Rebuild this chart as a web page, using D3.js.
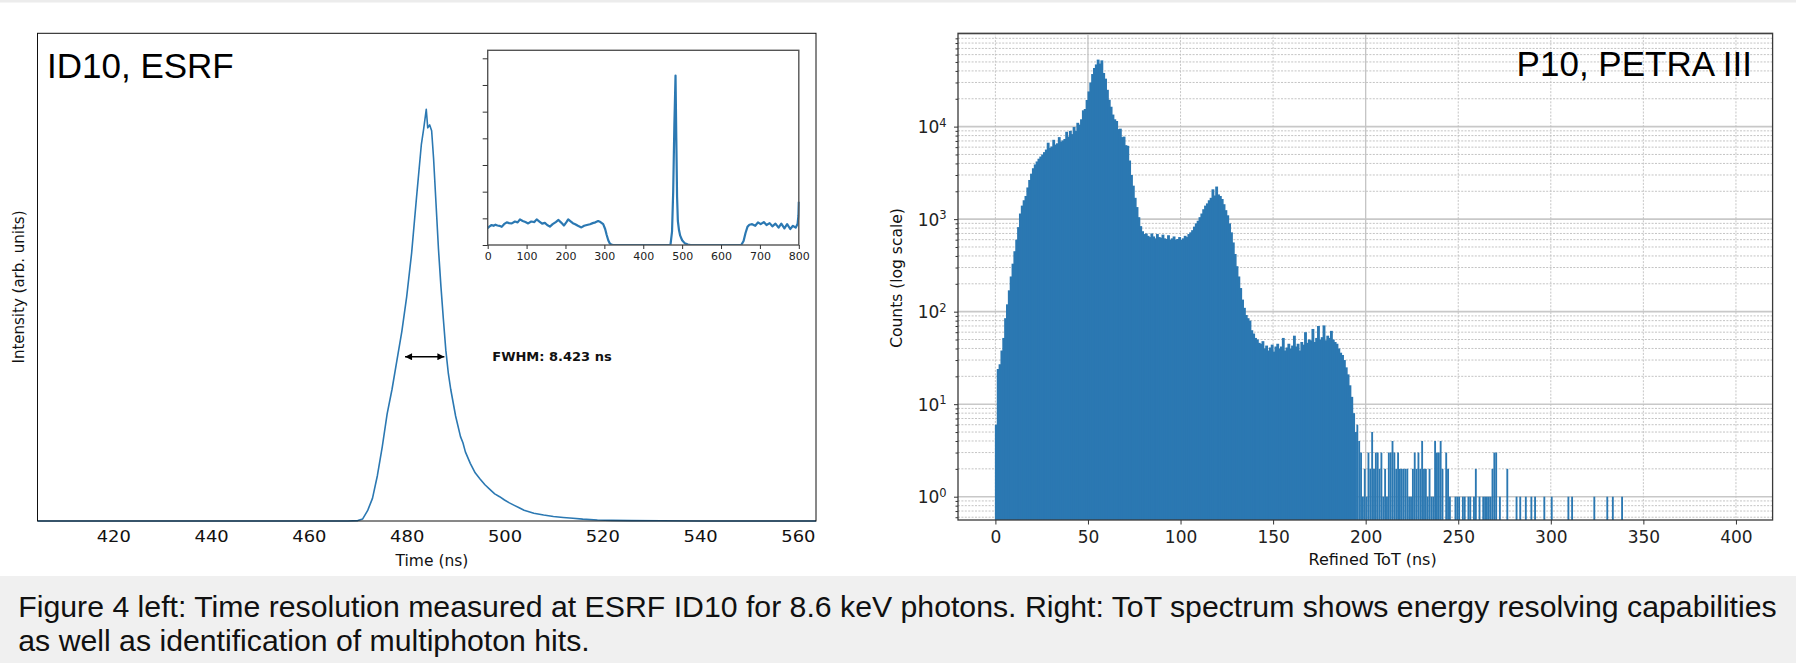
<!DOCTYPE html>
<html><head><meta charset="utf-8">
<script src="https://cdn.jsdelivr.net/npm/d3@7/dist/d3.min.js"></script>
<style>
html,body{margin:0;padding:0;background:#fff;}
svg{display:block;}
</style></head><body>
<svg id="fig" width="1796" height="663"></svg>
<script>
// ---------------- DATA ----------------
// Left panel: ID10 ESRF time profile (normalised intensity)
const timeNs = [404.5,420,440,460,468,470,471,472,473,474,475,476,477,478,479,480,481,482,483,483.5,484,484.3,484.7,485.1,485.5,486,486.5,487,487.5,488,488.5,489,490,491,491.5,492,493,494,495,496,497,498,499,500,501,502,503,504,506,508,510,512,514,516,519,522,526,532,540,563.7];
const intensity = [0,0,0,0,0,0.001,0.005,0.025,0.055,0.11,0.18,0.26,0.32,0.39,0.46,0.545,0.65,0.785,0.915,0.955,1.0,0.955,0.962,0.948,0.88,0.77,0.66,0.57,0.49,0.415,0.36,0.32,0.255,0.205,0.19,0.168,0.14,0.117,0.102,0.088,0.077,0.066,0.059,0.051,0.044,0.038,0.032,0.026,0.019,0.0145,0.011,0.0085,0.0065,0.0045,0.0025,0.0015,0.001,0.0005,0,0];
const leftTicks = [420,440,460,480,500,520,540,560];
const fwhmLabel = "FWHM: 8.423 ns";
const fwhmStart = 479.66, fwhmEnd = 487.7, fwhmLevel = 0.399;

// Inset: full 800 ns window
const insetT = [0,5,10,15,20,25,30,36,42,49,55,62,70,77,83,90,97,104,112,120,126,133,140,147,153,160,167,175,182,189,196,202,207,214,219,225,232,241,248,255,263,270,277,284,290,297,302,306,310,314,318,323,470,474,477,480,483,485,487,489,492,495,500,507,515,522,652,658,663,668,673,680,688,695,702,710,717,725,732,740,748,755,763,770,778,785,792,797,799,800];
const insetV = [0.63,0.7,0.75,0.72,0.76,0.73,0.72,0.68,0.78,0.85,0.82,0.81,0.88,0.85,0.96,0.9,0.86,0.81,0.88,0.86,0.96,0.88,0.8,0.83,0.75,0.69,0.78,0.86,0.94,0.84,0.73,0.85,0.96,0.88,0.82,0.78,0.72,0.66,0.72,0.75,0.78,0.82,0.85,0.9,0.86,0.78,0.6,0.375,0.18,0.06,0.015,0,0,0.5,2.0,4.5,6.35,4.0,1.8,0.9,0.55,0.35,0.18,0.06,0.015,0,0,0.15,0.45,0.68,0.76,0.78,0.72,0.85,0.78,0.86,0.75,0.82,0.7,0.8,0.65,0.8,0.62,0.78,0.6,0.72,0.65,0.8,1.1,1.62];
const insetXTicks = [0,100,200,300,400,500,600,700,800];
const insetYTicks = [0,1,2,3,4,5,6,7];

// Right panel: P10 PETRA III ToT histogram, 1 ns bins starting at 0 ns
const totCounts = [6,24,27,38,52,85,120,170,240,330,
 450,600,820,1150,1400,1600,1780,2200,2650,3100,
 3550,3900,4200,4500,4750,5000,5300,5650,6700,5900,
 6100,7200,6400,6600,7700,6900,7100,7350,8800,7800,
 9000,8300,9900,9000,11000,10500,12000,15000,15500,19400,
 24000,30000,37000,43000,47000,53000,48000,52000,38000,33000,
 25000,19500,16400,13500,12000,11500,9400,9500,7700,7800,
 6300,6200,4300,3000,2300,1700,1350,1050,840,740,
 690,700,660,640,700,650,620,690,640,630,
 680,620,610,670,600,620,650,600,610,640,
 600,620,660,640,690,720,760,830,900,960,
 1050,1150,1280,1400,1480,1600,1700,2100,1800,2250,
 1850,1780,1650,1450,1250,1100,900,720,560,420,
 310,240,180,135,110,92,85,80,63,58,
 52,50,46,45,48,40,43,38,41,44,
 37,42,45,40,42,52,38,41,45,40,
 43,55,42,45,38,47,44,60,46,50,
 49,65,47,52,70,50,53,71,49,55,
 52,62,50,47,45,40,36,34,30,25,
 21,16,12,8,5];
// sparse tail: [bin start (ns), counts]
const totTail = [[195,6],[196,4],[197,3],[198,1],[199,2],[200,1],[201,3],[202,2],[203,5],[204,2],[205,3],[206,3],[207,2],[208,3],[209,1],[210,2],[211,1],[212,3],[213,3],[214,4],[215,3],[216,2],[217,3],[218,2],[219,2],[220,2],[221,2],[222,2],[223,1],[224,1],[225,2],[226,3],[227,2],[228,3],[229,2],[230,4],[231,2],[232,2],[233,1],[234,2],[235,1],[236,1],[237,4],[238,3],[239,3],[240,4],[241,2],[243,3],[244,2],[245,1],[248,1],[249,1],[250,1],[252,1],[253,1],[255,1],[256,1],[258,1],[259,2],[261,1],[263,1],[264,1],[265,1],[266,1],[267,1],[268,2],[269,3],[270,3],[272,1],[276,2],[281,1],[283,1],[286,1],[289,1],[291,1],[296,1],[300,1],[309,1],[311,1],[323,1],[330,1],[333,1],[338,1]];
const rightXTicks = [0,50,100,150,200,250,300,350,400];
const rightXGridSolid = [50,200];
const rightYDecades = [1,10,100,1000,10000];
const rightYExponents = ["0","1","2","3","4"];

const leftTitle = "ID10, ESRF";
const rightTitle = "P10, PETRA III";
const leftXLabel = "Time (ns)";
const leftYLabel = "Intensity (arb. units)";
const rightXLabel = "Refined ToT (ns)";
const rightYLabel = "Counts (log scale)";
const captionLines = ["Figure 4 left: Time resolution measured at ESRF ID10 for 8.6 keV photons. Right: ToT spectrum shows energy resolving capabilities",
                      "as well as identification of multiphoton hits."];

// ---------------- DRAW ----------------
const svg = d3.select('#fig');
const BLUE = '#2b78b2';
const MPL = "'DejaVu Sans', sans-serif";
const SLIDE = "'Liberation Sans', Arial, sans-serif";

svg.append('rect').attr('x',0).attr('y',0).attr('width',1796).attr('height',2.5).attr('fill','#ececec');
svg.append('rect').attr('x',0).attr('y',576).attr('width',1796).attr('height',87).attr('fill','#f0f0f0');

const defs = svg.append('defs');
defs.append('clipPath').attr('id','clipL').append('rect').attr('x',37.5).attr('y',33.3).attr('width',816-37.5).attr('height',521-33.3+1.5);
defs.append('clipPath').attr('id','clipR').append('rect').attr('x',958).attr('y',33.3).attr('width',1772.6-958).attr('height',520-33.3);
defs.append('clipPath').attr('id','clipI').append('rect').attr('x',487.7).attr('y',50.3).attr('width',798.8-487.7+1).attr('height',245-50.3);
const mk = defs.append('marker').attr('id','arr').attr('viewBox','0 0 10 10').attr('refX',10).attr('refY',5)
  .attr('markerUnits','userSpaceOnUse').attr('markerWidth',8).attr('markerHeight',7).attr('orient','auto-start-reverse');
mk.append('path').attr('d','M0,0 L10,5 L0,10 z').attr('fill','#000');

// ---- Left panel ----
const L = {x0:37.5, x1:816, y0:33.3, y1:521};
const xL = d3.scaleLinear().domain([404.5,563.7]).range([L.x0,L.x1]);
const yL = d3.scaleLinear().domain([0,1.1846]).range([L.y1,L.y0]);
const gL = svg.append('g');
const lineL = d3.line().x(d=>xL(d[0])).y(d=>yL(d[1]));
gL.append('path').datum(d3.zip(timeNs,intensity)).attr('d',lineL).attr('fill','none')
  .attr('stroke',BLUE).attr('stroke-width',1.6).attr('stroke-linejoin','round').attr('clip-path','url(#clipL)');
gL.append('rect').attr('x',L.x0).attr('y',L.y0).attr('width',L.x1-L.x0).attr('height',L.y1-L.y0)
  .attr('fill','none').attr('stroke','#111').attr('stroke-width',1);
const axL = gL.append('g').attr('transform',`translate(0,${L.y1})`)
  .call(d3.axisBottom(xL).tickValues(leftTicks).tickSize(0));
axL.select('.domain').remove();
axL.selectAll('text').attr('y',20.7).attr('dy',0).attr('font-family',MPL).attr('font-size',16)
  .attr('fill','#111').attr('transform','scale(1.12,1)');
gL.append('text').attr('x',432).attr('y',565.5).attr('text-anchor','middle').attr('font-family',MPL)
  .attr('font-size',15.5).attr('fill','#111').text(leftXLabel);
gL.append('text').attr('transform','translate(23.5,287) rotate(-90)').attr('text-anchor','middle')
  .attr('font-family',MPL).attr('font-size',15).attr('fill','#111').text(leftYLabel);
gL.append('text').attr('x',47).attr('y',77.7).attr('font-family',SLIDE).attr('font-size',35).attr('fill','#000').text(leftTitle);
// FWHM arrow & label
gL.append('line').attr('x1',xL(fwhmStart)).attr('x2',xL(fwhmEnd)).attr('y1',yL(fwhmLevel)).attr('y2',yL(fwhmLevel))
  .attr('stroke','#000').attr('stroke-width',1.6).attr('marker-start','url(#arr)').attr('marker-end','url(#arr)');
gL.append('text').attr('x',xL(497.5)).attr('y',yL(0.389)).attr('font-family',MPL).attr('font-weight','bold')
  .attr('font-size',13).attr('fill','#111').text(fwhmLabel);

// ---- Inset ----
const I = {x0:487.7, x1:798.8, y0:50.3, y1:245};
const xI = d3.scaleLinear().domain([0,800]).range([I.x0,I.x1]);
const yI = d3.scaleLinear().domain([0,7.3]).range([I.y1,I.y0]);
const gI = svg.append('g');
gI.append('rect').attr('x',I.x0).attr('y',I.y0).attr('width',I.x1-I.x0).attr('height',I.y1-I.y0).attr('fill','#fff');
gI.append('path').datum(d3.zip(insetT,insetV)).attr('d',d3.line().x(d=>xI(d[0])).y(d=>yI(d[1])))
  .attr('fill','none').attr('stroke',BLUE).attr('stroke-width',2.2).attr('stroke-linejoin','round').attr('clip-path','url(#clipI)');
gI.append('rect').attr('x',I.x0).attr('y',I.y0).attr('width',I.x1-I.x0).attr('height',I.y1-I.y0)
  .attr('fill','none').attr('stroke','#555').attr('stroke-width',1.4);
const axIx = gI.append('g').attr('transform',`translate(0,${I.y1})`)
  .call(d3.axisBottom(xI).tickValues(insetXTicks).tickSize(4).tickPadding(3));
axIx.select('.domain').remove();
axIx.selectAll('line').attr('stroke','#333');
axIx.selectAll('text').attr('font-family',MPL).attr('font-size',11).attr('fill','#222');
const axIy = gI.append('g').attr('transform',`translate(${I.x0},0)`)
  .call(d3.axisLeft(yI).tickValues(insetYTicks).tickSize(5).tickFormat(''));
axIy.select('.domain').remove();
axIy.selectAll('line').attr('stroke','#333');

// ---- Right panel ----
const R = {x0:958, x1:1772.6, y0:33.3, y1:520};
const xR = d3.scaleLinear().domain([-20.2,419.8]).range([R.x0,R.x1]);
const yR = d3.scaleLog().domain([0.56,1.02e5]).range([R.y1,R.y0]);
const gR = svg.append('g');
const minorY = [];
for (let k=-1;k<=5;k++) for (let m=2;m<=9;m++){ const v=m*Math.pow(10,k); if(v>=0.56 && v<=1.02e5) minorY.push(v); }
const majorY = rightYDecades.concat([1e5]);
const grid = gR.append('g').attr('clip-path','url(#clipR)');
grid.selectAll('.ym').data(minorY).join('line').attr('x1',R.x0).attr('x2',R.x1)
  .attr('y1',d=>yR(d)).attr('y2',d=>yR(d)).attr('stroke','#bdbdbd').attr('stroke-width',0.9).attr('stroke-dasharray','2,1.4');
grid.selectAll('.yM').data(majorY).join('line').attr('x1',R.x0).attr('x2',R.x1)
  .attr('y1',d=>yR(d)).attr('y2',d=>yR(d)).attr('stroke','#c8c8c8').attr('stroke-width',1.6);
grid.selectAll('.xg').data(rightXTicks).join('line').attr('y1',R.y0).attr('y2',R.y1)
  .attr('x1',d=>xR(d)).attr('x2',d=>xR(d))
  .attr('stroke',d=>rightXGridSolid.includes(d)?'#c4c4c4':'#c0c0c0')
  .attr('stroke-width',d=>rightXGridSolid.includes(d)?1.3:0.9)
  .attr('stroke-dasharray',d=>rightXGridSolid.includes(d)?null:'2,1.4');
// histogram
const bars = gR.append('g').attr('clip-path','url(#clipR)').attr('fill',BLUE);
bars.selectAll('.b').data(totCounts.map((c,i)=>[i,c])).join('rect')
  .attr('x',d=>xR(d[0])-0.5).attr('width',d=>xR(d[0]+1)-xR(d[0])+1)
  .attr('y',d=>yR(d[1])).attr('height',d=>R.y1-yR(d[1]));
bars.selectAll('.t').data(totTail).join('rect')
  .attr('x',d=>xR(d[0])).attr('width',d=>xR(d[0]+1)-xR(d[0]))
  .attr('y',d=>yR(d[1])).attr('height',d=>R.y1-yR(d[1]));
gR.append('rect').attr('x',R.x0).attr('y',R.y0).attr('width',R.x1-R.x0).attr('height',R.y1-R.y0)
  .attr('fill','none').attr('stroke','#3a3a3a').attr('stroke-width',1.3);
// axes
const axRx = gR.append('g').attr('transform',`translate(0,${R.y1})`)
  .call(d3.axisBottom(xR).tickValues(rightXTicks).tickSize(4.5).tickPadding(4));
axRx.select('.domain').remove();
axRx.selectAll('line').attr('stroke','#333');
axRx.selectAll('text').attr('y',23.3).attr('dy',0).attr('font-family',MPL).attr('font-size',17).attr('fill','#222');
const axRy = gR.append('g').attr('transform',`translate(${R.x0},0)`)
  .call(d3.axisLeft(yR).tickValues(rightYDecades).tickSize(4).tickFormat(''));
axRy.select('.domain').remove();
axRy.selectAll('line').attr('stroke','#333');
const axRym = gR.append('g').attr('transform',`translate(${R.x0},0)`)
  .call(d3.axisLeft(yR).tickValues(minorY).tickSize(2.5).tickFormat(''));
axRym.select('.domain').remove();
axRym.selectAll('line').attr('stroke','#333');
const yl = gR.selectAll('.ylab').data(rightYDecades).join('text')
  .attr('x',946.7).attr('y',d=>yR(d)+6.6).attr('text-anchor','end').attr('font-family',MPL).attr('fill','#222');
yl.append('tspan').attr('font-size',17).text('10');
yl.append('tspan').attr('font-size',11.5).attr('dy',-6.5).text((d,i)=>rightYExponents[i]);
gR.append('text').attr('x',1372.6).attr('y',565).attr('text-anchor','middle').attr('font-family',MPL)
  .attr('font-size',16).attr('fill','#111').text(rightXLabel);
gR.append('text').attr('transform','translate(901.5,278) rotate(-90)').attr('text-anchor','middle')
  .attr('font-family',MPL).attr('font-size',15.5).attr('fill','#111').text(rightYLabel);
gR.append('text').attr('x',1752).attr('y',76).attr('text-anchor','end').attr('font-family',SLIDE)
  .attr('font-size',35).attr('fill','#000').text(rightTitle);

// ---- Caption ----
const cap = svg.append('g');
const c1 = cap.append('text').attr('x',18.3).attr('y',616.7).attr('font-family',SLIDE).attr('font-size',30).attr('fill','#111').text(captionLines[0]);
const w = c1.node().getComputedTextLength();
const fs = 30*1759/w;
c1.attr('font-size',fs);
cap.append('text').attr('x',18.3).attr('y',651).attr('font-family',SLIDE).attr('font-size',fs).attr('fill','#111').text(captionLines[1]);
</script>
</body></html>
